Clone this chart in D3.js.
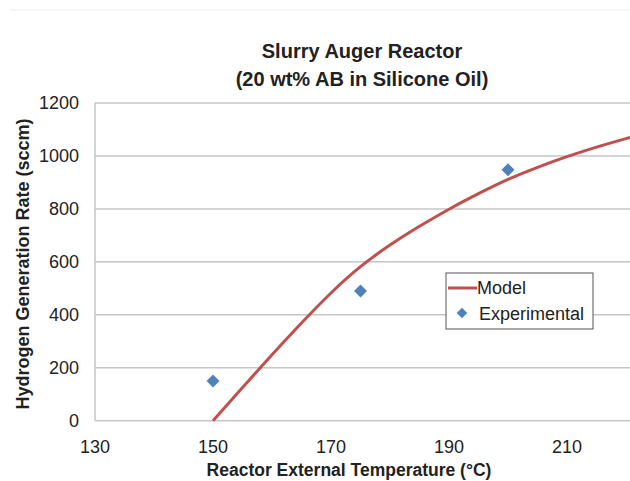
<!DOCTYPE html>
<html>
<head>
<meta charset="utf-8">
<script src="https://cdn.jsdelivr.net/npm/d3@7"></script>
<style>
  body { margin: 0; background: #fff; }
  svg { font-family: "Liberation Sans", Arial, sans-serif; }
</style>
</head>
<body>
<div class="chart"></div>
<script>
// Model curve (temperature in °C, rate in sccm)
const modelTemps = [150, 155, 160, 165, 170, 175, 180, 185, 190, 195, 200, 205, 210, 215, 220, 225, 230];
const modelRates = [0, 125, 250, 370, 485, 585, 665, 735, 800, 858, 913, 958, 998, 1034, 1066, 1095, 1122];

// Experimental points
const expTemps = [150, 175, 200];
const expRates = [150, 490, 948];

// Axis ticks (230 sits past the right edge, so it is not labelled)
const xTicks = [130, 150, 170, 190, 210];
const yTicks = [0, 200, 400, 600, 800, 1000, 1200];

const width = 630, height = 481;
const margin = { top: 103, left: 95, bottom: 60 };

const svg = d3
  .select(".chart")
  .append("svg")
  .attr("width", width)
  .attr("height", height);

// plot continues past the right edge of the picture
const x = d3.scaleLinear().domain([130, 230]).range([margin.left, 685]);
const y = d3.scaleLinear().domain([0, 1200]).range([height - margin.bottom - 0.3, margin.top]);

// faint outer border line at top
svg.append("line")
  .attr("x1", 10).attr("x2", width)
  .attr("y1", 10).attr("y2", 10)
  .attr("stroke", "#ececec").attr("stroke-width", 1);

// Gridlines
svg.append("g")
  .selectAll("line")
  .data(yTicks)
  .join("line")
  .attr("x1", margin.left)
  .attr("x2", 685)
  .attr("y1", d => y(d))
  .attr("y2", d => y(d))
  .attr("stroke", "#c6c6c6")
  .attr("stroke-width", 1.5);

// Left axis line
svg.append("line")
  .attr("x1", margin.left).attr("x2", margin.left)
  .attr("y1", y(1200)).attr("y2", y(0))
  .attr("stroke", "#c6c6c6")
  .attr("stroke-width", 1.5);

// Y tick labels
svg.append("g")
  .selectAll("text")
  .data(yTicks)
  .join("text")
  .attr("x", 79)
  .attr("y", d => y(d))
  .attr("dy", "0.35em")
  .attr("text-anchor", "end")
  .style("font-size", "18px")
  .attr("fill", "#222")
  .text(d => d);

// X tick labels
svg.append("g")
  .selectAll("text")
  .data(xTicks)
  .join("text")
  .attr("x", d => x(d))
  .attr("y", 447)
  .attr("dy", "0.35em")
  .attr("text-anchor", "middle")
  .style("font-size", "18px")
  .attr("fill", "#222")
  .text(d => d);

// Axis titles
svg.append("text")
  .attr("x", 349)
  .attr("y", 470)
  .attr("dy", "0.35em")
  .attr("text-anchor", "middle")
  .style("font-size", "17.5px")
  .style("font-weight", "bold")
  .attr("fill", "#222")
  .text("Reactor External Temperature (°C)");

svg.append("text")
  .attr("transform", `translate(23, 264) rotate(-90)`)
  .attr("dy", "0.35em")
  .attr("text-anchor", "middle")
  .style("font-size", "18px")
  .style("font-weight", "bold")
  .attr("fill", "#222")
  .text("Hydrogen Generation Rate (sccm)");

// Title
const title = svg.append("text")
  .attr("text-anchor", "middle")
  .style("font-size", "20px")
  .style("font-weight", "bold")
  .attr("fill", "#222");
title.append("tspan").attr("x", 362).attr("y", 58).text("Slurry Auger Reactor");
title.append("tspan").attr("x", 362).attr("y", 86).text("(20 wt% AB in Silicone Oil)");

// Model line
const modelData = modelTemps.map((t, i) => ({ t, v: modelRates[i] }));
const line = d3.line()
  .x(d => x(d.t))
  .y(d => y(d.v))
  .curve(d3.curveBasis);

svg.append("path")
  .datum(modelData)
  .attr("d", line)
  .attr("fill", "none")
  .attr("stroke", "#c0504d")
  .attr("stroke-width", 3);

// Experimental points
const diamond = d3.symbol().type(d3.symbolSquare).size(85);
svg.append("g")
  .selectAll("path")
  .data(expTemps.map((t, i) => ({ t, v: expRates[i] })))
  .join("path")
  .attr("d", diamond)
  .attr("transform", d => `translate(${x(d.t)},${y(d.v)}) rotate(45)`)
  .attr("fill", "#4f81bd");

// Legend
const legend = svg.append("g").attr("transform", "translate(446, 273)");
legend.append("rect")
  .attr("width", 147)
  .attr("height", 56)
  .attr("fill", "#fff")
  .attr("stroke", "#555")
  .attr("stroke-width", 1);
legend.append("line")
  .attr("x1", 2).attr("x2", 31)
  .attr("y1", 15).attr("y2", 15)
  .attr("stroke", "#c0504d")
  .attr("stroke-width", 3);
legend.append("text")
  .attr("x", 31).attr("y", 15)
  .attr("dy", "0.35em")
  .style("font-size", "18px")
  .attr("fill", "#222")
  .text("Model");
legend.append("path")
  .attr("d", d3.symbol().type(d3.symbolSquare).size(55))
  .attr("transform", "translate(16, 40) rotate(45)")
  .attr("fill", "#4f81bd");
legend.append("text")
  .attr("x", 33).attr("y", 41)
  .attr("dy", "0.35em")
  .style("font-size", "18px")
  .attr("fill", "#222")
  .text("Experimental");
</script>
</body>
</html>
